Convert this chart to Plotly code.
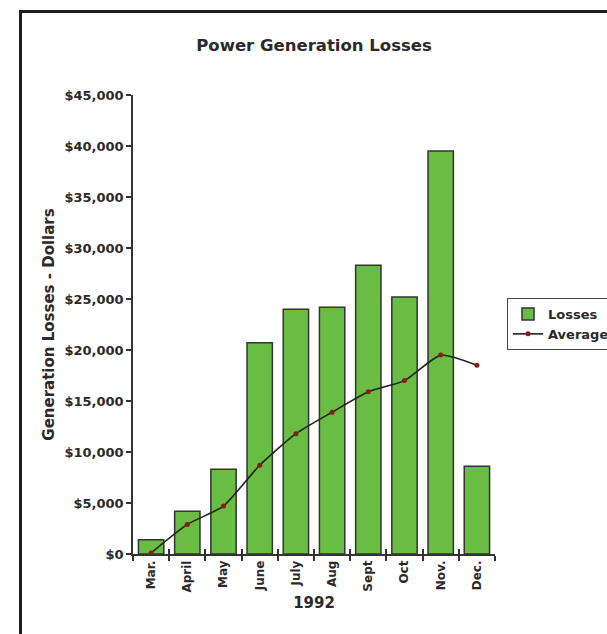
import plotly.graph_objects as go

months = ["Mar.", "April", "May", "June", "July", "Aug", "Sept", "Oct", "Nov.", "Dec."]
losses = [1400, 4200, 8300, 20700, 24000, 24200, 28300, 25200, 39500, 8600]
average = [100, 2900, 4700, 8700, 11800, 13900, 15900, 17000, 19500, 18500]
y_ticks = [0, 5000, 10000, 15000, 20000, 25000, 30000, 35000, 40000, 45000]
y_tick_labels = ["$" + format(v, ",") for v in y_ticks]

FONT = "DejaVu Sans"
TXT = "#2a2a2a"

fig = go.Figure()
fig.add_trace(go.Bar(
    x=months, y=losses, name="Losses",
    marker=dict(color="#68bd42", line=dict(color="#333333", width=1.5)),
))
fig.add_trace(go.Scatter(
    x=months, y=average, name="Average", mode="lines+markers",
    line=dict(color="#222222", width=1.6, shape="spline", smoothing=0.55),
    marker=dict(color="#8b1a1a", size=5),
))
# invisible helper on overlay axis for the inner half of the x ticks
fig.add_trace(go.Scatter(
    x=months, y=losses, xaxis="x2", mode="markers",
    marker=dict(opacity=0), showlegend=False, hoverinfo="skip",
))

# plot area in pixels: x 133..495, y 95..554
L, R, T, B = 133, 495, 95, 554
W, H = 607, 634
def px(x):
    return (x - L) / (R - L)
def py(y):
    return (B - y) / (B - T)

fig.update_layout(
    width=W, height=H,
    margin=dict(l=L, r=W - R, t=T, b=H - B, autoexpand=False),
    paper_bgcolor="white", plot_bgcolor="white",
    bargap=0.3,
    title=dict(text="<b>Power Generation Losses</b>", x=0.5, xref="paper",
               y=1 - 45 / H, yref="container", yanchor="middle", xanchor="center",
               font=dict(family=FONT, size=16.5, color=TXT)),
    showlegend=True,
    legend=dict(x=px(507), y=py(298), xanchor="left", yanchor="top",
                bordercolor="#444444", borderwidth=1, bgcolor="white",
                font=dict(family=FONT, size=13, color=TXT, weight="bold"),
                tracegroupgap=0, itemwidth=30),
    font=dict(family=FONT, color=TXT),
    shapes=[dict(type="rect", xref="paper", yref="paper",
                 x0=px(20.5), x1=px(700), y0=py(700), y1=py(11.5),
                 line=dict(color="#1e1e1e", width=3), layer="above")],
    xaxis2=dict(overlaying="x", matches="x", anchor="y", side="bottom",
                type="category", ticks="inside", ticklen=5, tickwidth=1.5,
                tickcolor="#333333", tickson="boundaries", showticklabels=False,
                showline=False, showgrid=False, zeroline=False),
    xaxis=dict(
        type="category", range=[-0.5, 9.5],
        showline=True, linecolor="#333333", linewidth=1.5,
        ticks="outside", ticklen=5, tickcolor="#333333", tickwidth=1.5,
        tickson="boundaries", tickangle=-90,
        tickfont=dict(family=FONT, size=12, color=TXT, weight="bold"),
        showgrid=False, zeroline=False,
        title=dict(text="<b>1992</b>", font=dict(family=FONT, size=15, color=TXT), standoff=6),
    ),
)
fig.update_yaxes(
    range=[0, 45000], tickvals=y_ticks, ticktext=y_tick_labels,
    showline=True, linecolor="#333333", linewidth=1.5,
    ticks="outside", ticklen=5, tickcolor="#333333", tickwidth=1.5,
    tickfont=dict(family=FONT, size=13, color=TXT, weight="bold"),
    showgrid=False, zeroline=False,
    title=dict(text="<b>Generation Losses - Dollars</b>",
               font=dict(family=FONT, size=15, color=TXT), standoff=6),
)

fig.write_html("out.html", config={"displayModeBar": False},
               post_script="document.body.style.margin='0';")
